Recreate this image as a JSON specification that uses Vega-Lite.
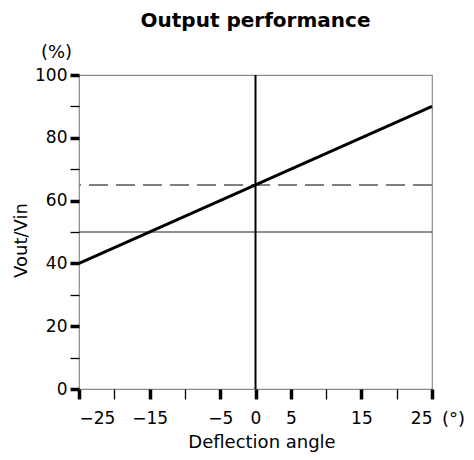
{
  "$schema": "https://vega.github.io/schema/vega-lite/v6.json",
  "autosize": "none",
  "width": 353,
  "height": 314,
  "padding": {"left": 79, "top": 75, "right": 42, "bottom": 71},
  "background": "white",
  "config": {
    "font": "DejaVu Sans",
    "view": {"stroke": "#8a8a8a", "strokeWidth": 1.2},
    "axis": {"grid": false, "domain": false, "labelFont": "DejaVu Sans", "titleFont": "DejaVu Sans", "labelColor": "#000", "titleColor": "#000", "tickColor": "#000", "labelFontSize": 17, "titleFontSize": 18, "titleFontWeight": "normal"}
  },
  "title": {"text": "Output performance", "font": "DejaVu Sans", "fontSize": 20, "fontWeight": "bold", "color": "#000", "anchor": "middle", "frame": "group", "offset": 12},
  "datasets": {
    "curve": [
      {"angle": -25, "ratio": 40},
      {"angle": 0, "ratio": 65},
      {"angle": 25, "ratio": 90}
    ],
    "vline": [{"angle": 0}],
    "hsolid": [{"ratio": 50}],
    "hdash": [{"ratio": 65}]
  },
  "layer": [
    {
      "data": {"name": "hdash"},
      "mark": {"type": "rule", "color": "#808080", "strokeWidth": 2, "strokeDash": [19, 8]},
      "encoding": {
        "y": {"field": "ratio", "type": "quantitative", "scale": {"domain": [0, 100], "nice": false, "zero": false}, "axis": null}
      }
    },
    {
      "data": {"name": "hsolid"},
      "mark": {"type": "rule", "color": "#222", "strokeWidth": 1},
      "encoding": {
        "y": {"field": "ratio", "type": "quantitative", "scale": {"domain": [0, 100], "nice": false, "zero": false},
          "axis": {"orient": "left", "values": [10, 30, 50, 70, 90], "labels": false, "tickSize": 9, "tickWidth": 1.3, "title": "(%)", "titleAngle": 0, "titleX": -23, "titleY": -23, "titleAlign": "center", "titleBaseline": "middle", "titleFontSize": 18}}
      }
    },
    {
      "data": {"name": "vline"},
      "mark": {"type": "rule", "color": "#000", "strokeWidth": 2},
      "encoding": {
        "x": {"field": "angle", "type": "quantitative", "scale": {"domain": [-25, 25], "nice": false, "zero": false},
          "axis": {"orient": "bottom", "values": [-20, -10, 10, 20], "labels": false, "tickSize": 10, "tickWidth": 1.3, "title": "(°)", "titleX": 374, "titleY": 35, "titleAlign": "center", "titleBaseline": "alphabetic", "titleFontSize": 18}}
      }
    },
    {
      "data": {"name": "curve"},
      "mark": {"type": "line", "color": "#000", "strokeWidth": 2.8},
      "encoding": {
        "x": {"field": "angle", "type": "quantitative", "scale": {"domain": [-25, 25], "nice": false, "zero": false},
          "axis": {"orient": "bottom", "values": [-25, -15, -5, 0, 5, 15, 25], "format": "d", "tickSize": 10, "tickWidth": 3.5, "labelPadding": 11, "title": "Deflection angle", "titleX": 182.5, "titleY": 58, "titleAlign": "center", "titleBaseline": "alphabetic"}},
        "y": {"field": "ratio", "type": "quantitative", "scale": {"domain": [0, 100], "nice": false, "zero": false},
          "axis": {"orient": "left", "values": [0, 20, 40, 60, 80, 100], "format": "d", "tickSize": 9, "tickWidth": 3.5, "labelPadding": 3, "title": "Vout/Vin", "titleX": -58, "titleY": 165, "titleAlign": "center", "titleBaseline": "middle"}}
      }
    }
  ],
  "resolve": {"axis": {"x": "independent", "y": "independent"}}
}
